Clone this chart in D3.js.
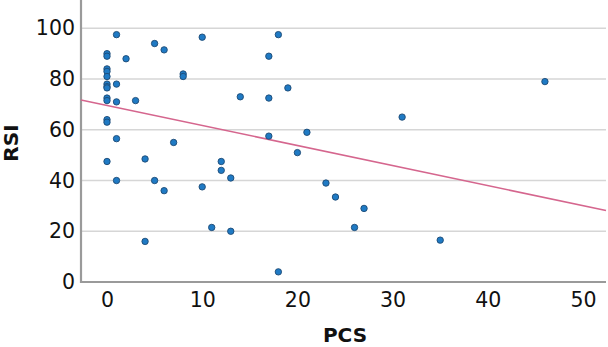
<!DOCTYPE html>
<html>
<head>
<meta charset="utf-8">
<script src="https://cdn.jsdelivr.net/npm/d3@7"></script>
<style>
  body { margin: 0; background: #fff; }
  svg { display: block; }
</style>
</head>
<body>
<div id="chart"></div>
<script>
// PCS vs RSI
const pcs = [0, 0, 0, 0, 0, 0, 0, 0, 0, 0, 0, 0, 0,
  1, 1, 1, 1, 1, 2, 3, 4, 4, 5, 5, 6, 6, 7, 8, 8, 10, 10, 11, 12, 12, 13, 13, 14,
  17, 17, 17, 18, 18, 19, 20, 21, 23, 24, 26, 27, 31, 35, 46]
const rsi = [90, 89, 84, 83, 81, 78, 77, 76.5, 72.5, 71.5, 64, 63, 47.5,
  97.5, 78, 71, 56.5, 40, 88, 71.5, 48.5, 16, 94, 40, 91.5, 36, 55, 82, 81, 96.5, 37.5, 21.5, 47.5, 44, 41, 20, 73,
  89, 72.5, 57.5, 97.5, 4, 76.5, 51, 59, 39, 33.5, 21.5, 29, 65, 16.5, 79]
const xTicks = [0, 10, 20, 30, 40, 50]
const yTicks = [0, 20, 40, 60, 80, 100]
const fit = { intercept: 69.6, slope: -0.79 }

const W = 608, H = 347
const plotL = 81, plotR = 606, plotT = 0, plotB = 282

let x = d3.scaleLinear().domain([0, 50]).range([107, 583])
let y = d3.scaleLinear().domain([0, 100]).range([plotB, 28.3])
x.domain([x.invert(plotL), x.invert(plotR)]).range([plotL, plotR])
y.domain([0, y.invert(plotT)]).range([plotB, plotT])

let svg = d3.select("#chart")
    .append("svg")
    .attr('width', W)
    .attr('height', H)

// gridlines
svg.append("g")
    .selectAll("line")
    .data(yTicks.filter(d => d > 0))
    .join("line")
    .attr('x1', plotL)
    .attr('x2', plotR)
    .attr('y1', d => y(d))
    .attr('y2', d => y(d))
    .attr('stroke', '#d6d6d6')
    .attr('stroke-width', 1.6)

// y axis
let yAxis = svg.append("g")
    .attr('transform', `translate(${plotL},0)`)
    .call(d3.axisLeft(y).tickValues(yTicks).tickSize(0).tickPadding(6))
yAxis.select(".domain").remove()
yAxis.selectAll("text")
    .attr('font-family', 'DejaVu Sans')
    .attr('font-size', 20.5)
    .attr('fill', '#111')

// x axis
let xAxis = svg.append("g")
    .attr('transform', `translate(0,${plotB})`)
    .call(d3.axisBottom(x).tickValues(xTicks).tickSize(0).tickPadding(10))
xAxis.select(".domain").remove()
xAxis.selectAll("text")
    .attr('font-family', 'DejaVu Sans')
    .attr('font-size', 20.5)
    .attr('fill', '#111')

// axis lines
svg.append("path")
    .attr('d', `M${plotL},${plotT}V${plotB}H${plotR}`)
    .attr('fill', 'none')
    .attr('stroke', '#9a9a9a')
    .attr('stroke-width', 2.2)

// fit line
let xd = x.domain()
svg.append("line")
    .attr('x1', x(xd[0]))
    .attr('x2', x(xd[1]))
    .attr('y1', y(fit.intercept + fit.slope * xd[0]))
    .attr('y2', y(fit.intercept + fit.slope * xd[1]))
    .attr('stroke', '#d5668e')
    .attr('stroke-width', 1.6)

// points
svg.append("g")
    .selectAll("circle")
    .data(pcs.map((d, i) => [d, rsi[i]]))
    .join("circle")
    .attr('cx', d => x(d[0]))
    .attr('cy', d => y(d[1]))
    .attr('r', 3.2)
    .attr('fill', '#1f7ac4')
    .attr('stroke', '#1d4a74')
    .attr('stroke-width', 0.9)

// axis titles
svg.append("text")
    .attr('x', 345)
    .attr('y', 342)
    .attr('text-anchor', 'middle')
    .attr('font-family', 'DejaVu Sans')
    .attr('font-weight', 'bold')
    .attr('font-size', 20)
    .attr('fill', '#111')
    .text('PCS')

svg.append("text")
    .attr('transform', 'translate(18,143) rotate(-90)')
    .attr('text-anchor', 'middle')
    .attr('font-family', 'DejaVu Sans')
    .attr('font-weight', 'bold')
    .attr('font-size', 20)
    .attr('fill', '#111')
    .text('RSI')
</script>
</body>
</html>
